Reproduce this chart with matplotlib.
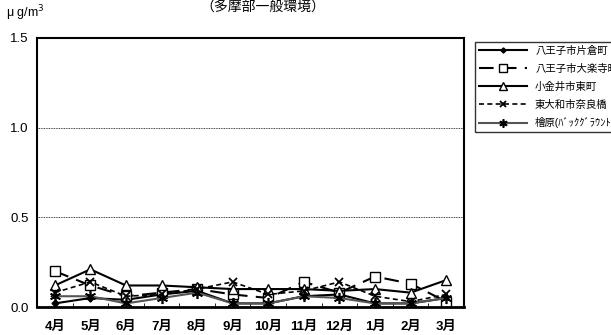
import numpy as np
import matplotlib.pyplot as plt

plt.rcParams['font.family'] = ['Liberation Sans', 'Noto Sans CJK JP']

months = ['4月', '5月', '6月', '7月', '8月', '9月', '10月', '11月', '12月', '1月', '2月', '3月']

# 各測定局の月別値 (μg/m3)
katakura = [0.02, 0.05, 0.04, 0.07, 0.09, 0.02, 0.02, 0.06, 0.07, 0.02, 0.02, 0.05]
dairakuji = [0.20, 0.12, 0.06, 0.08, 0.10, 0.07, 0.05, 0.14, 0.08, 0.17, 0.13, 0.03]
higashicho = [0.12, 0.21, 0.12, 0.12, 0.11, 0.10, 0.10, 0.10, 0.09, 0.10, 0.08, 0.15]
narahashi = [0.08, 0.14, 0.06, 0.07, 0.10, 0.14, 0.07, 0.09, 0.14, 0.06, 0.03, 0.07]
hinohara = [0.06, 0.06, 0.02, 0.05, 0.08, 0.02, 0.02, 0.06, 0.05, 0.02, 0.02, 0.05]

labels = ['八王子市片倉町', '八王子市大楽寺町', '小金井市東町', '東大和市奈良橋', '檜原(ﾊﾞｯｸｸﾞﾗｳﾝﾄﾞ)']

fig = plt.figure(figsize=(6.11, 3.35), dpi=100)
ax = fig.add_axes([37/611, 28/335, 427/611, 269/335])

x = np.arange(len(months))
ax.plot(x, katakura, color='black', lw=1.5, marker='D', ms=3.5, mfc='black', label=labels[0])
ax.plot(x, dairakuji, color='black', lw=1.5, dashes=(7, 4), marker='s', ms=7, mfc='white', label=labels[1])
ax.plot(x, higashicho, color='black', lw=1.5, marker='^', ms=7, mfc='white', label=labels[2])
ax.plot(x, narahashi, color='black', lw=1.2, dashes=(3, 2), marker='x', ms=6, mew=1.3, label=labels[3])
ax.plot(x, hinohara, color='#555555', lw=1.5, marker=(6, 2, 0), ms=8, mec='black', mew=1.2, label=labels[4])

ax.set_xlim(-0.5, 11.5)
ax.set_ylim(0, 1.5)
ax.set_yticks([0.0, 0.5, 1.0, 1.5])
ax.set_yticklabels(['0.0', '0.5', '1.0', '1.5'], fontsize=9.5)
ax.set_xticks(x)
ax.set_xticklabels(months, fontsize=9.5, fontweight='bold')
ax.set_xticks(np.arange(-0.5, 12, 1), minor=True)
ax.tick_params(axis='x', which='major', length=0, pad=10)
ax.tick_params(axis='x', which='minor', direction='in', length=3)
ax.tick_params(axis='y', length=0, pad=6)
for y in [0.5, 1.0]:
    ax.axhline(y, color='black', lw=0.6, ls=(0, (1, 1)))
for s in ax.spines.values():
    s.set_linewidth(1.5)
ax.spines['bottom'].set_linewidth(2)

fig.text(6/611, 1 - 13/335, 'μ g/m$^3$', fontsize=9, va='center')
fig.text(263/611, 1.0, '（多摩部一般環境）', fontsize=10, ha='center', va='top')

leg = fig.legend(loc='upper left', bbox_to_anchor=(470/611, 1 - 37/335), fontsize=7.5,
                 frameon=True, fancybox=False, edgecolor='black', handlelength=4.6,
                 labelspacing=0.75, borderpad=0.35, markerscale=0.75)
leg.get_frame().set_linewidth(1)

fig.savefig('out.png', dpi=100)
